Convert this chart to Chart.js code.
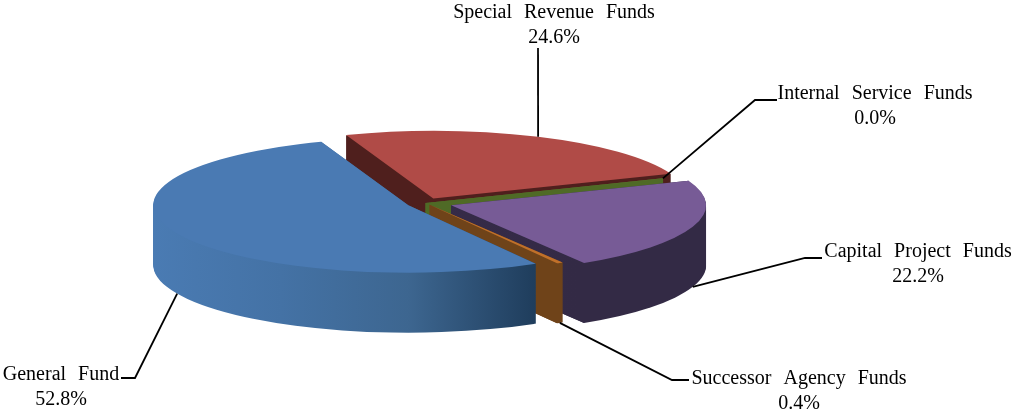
<!DOCTYPE html>
<html>
<head>
<meta charset="utf-8">
<title>Funds</title>
<script src="https://cdn.jsdelivr.net/npm/chart.js@4"></script>
<style>
    html, body { margin: 0; padding: 0; background: #fff; }
    #box { width: 1013px; height: 411px; position: relative; }
</style>
</head>
<body>
<div id="box"><canvas id="grafico"></canvas></div>
<script>
// Datos
const categorias = ['General Fund', 'Special Revenue Funds', 'Internal Service Funds', 'Capital Project Funds', 'Successor Agency Funds'];
const valores = [52.8, 24.6, 0.04, 22.2, 0.4];

// Colores: cara superior y pared lateral
const coloresTop = ['#4a7ab3', '#b04b47', '#5f7a30', '#775b96', '#c0702a'];
const coloresPared = [
    ['#4a7bb3', '#4472a5', '#3d6690', '#1f3d5c'],
    ['#4f1f1d', '#4f1f1d'],
    ['#4f6a26', '#4f6a26'],
    ['#3a2c4c', '#332a45'],
    ['#6f4319', '#6f4319']
];

// Estilo del pseudo 3D
const explode = [19, 19, 0, 27, 8];
const ordenDibujo = [1, 2, 3, 4, 0];
const aplastado = 0.265;
const alturaPared = 60;

// Etiquetas: posicion del texto y codo de la linea guia
const etiquetaX = [61, 554, 875, 918, 799];
const etiquetaY = [375, 13, 94, 252, 379];
const codos = [
    [[135, 378], [121, 378]],
    [[538, 48]],
    [[755, 100], [777, 100]],
    [[805, 258], [822, 258]],
    [[672, 380], [689, 380]]
];
const anclaEnPared = [1, 0, 0, 1, 1];

function anguloMedio(arc) {
    return (arc.startAngle + arc.endAngle) / 2;
}

// Cara radial de una porcion, para que las muy finas no queden transparentes
function caraRadial(ctx, arc, angulo) {
    const h = alturaPared / aplastado;
    const ex = arc.x + Math.cos(angulo) * arc.outerRadius;
    const ey = arc.y + Math.sin(angulo) * arc.outerRadius;
    ctx.beginPath();
    ctx.moveTo(arc.x, arc.y);
    ctx.lineTo(ex, ey);
    ctx.lineTo(ex, ey + h);
    ctx.lineTo(arc.x, arc.y + h);
    ctx.closePath();
    ctx.fill();
}

const pie3d = {
    id: 'pie3d',
    beforeDatasetsDraw(chart) {
        const ctx = chart.ctx;
        const arcs = chart.getDatasetMeta(0).data;
        const cy = arcs[0].y;

        ctx.save();
        ctx.translate(0, cy);
        ctx.scale(1, aplastado);
        ctx.translate(0, -cy);

        ordenDibujo.forEach(i => {
            const arc = arcs[i];
            const mid = anguloMedio(arc);
            ctx.save();
            ctx.translate(Math.cos(mid) * explode[i], Math.sin(mid) * explode[i]);

            // Pared lateral, capa por capa
            const grad = ctx.createLinearGradient(arc.x - arc.outerRadius, 0, arc.x + arc.outerRadius * 0.5, 0);
            coloresPared[i].forEach((c, k) => grad.addColorStop(k / (coloresPared[i].length - 1), c));
            ctx.fillStyle = grad;
            for (let d = alturaPared; d > 0; d--) {
                ctx.beginPath();
                ctx.moveTo(arc.x, arc.y + d / aplastado);
                ctx.arc(arc.x, arc.y + d / aplastado, arc.outerRadius, arc.startAngle, arc.endAngle);
                ctx.closePath();
                ctx.fill();
            }
            caraRadial(ctx, arc, arc.startAngle);
            caraRadial(ctx, arc, arc.endAngle);

            // Cara superior
            arc.draw(ctx);
            ctx.restore();
        });

        ctx.restore();
        return false;
    },
    afterDraw(chart) {
        const ctx = chart.ctx;
        const arcs = chart.getDatasetMeta(0).data;

        ctx.save();
        ctx.strokeStyle = '#000';
        ctx.lineWidth = 1.8;
        ctx.fillStyle = '#000';
        ctx.font = '20px "Liberation Serif"';
        ctx.textAlign = 'center';
        ctx.textBaseline = 'middle';

        arcs.forEach((arc, i) => {
            const mid = anguloMedio(arc);
            const r = arc.outerRadius + explode[i];
            const ax = arc.x + Math.cos(mid) * r;
            const ay = arc.y + Math.sin(mid) * r * aplastado + anclaEnPared[i] * alturaPared;

            ctx.beginPath();
            ctx.moveTo(ax, ay);
            codos[i].forEach(p => ctx.lineTo(p[0], p[1]));
            ctx.stroke();

            ctx.wordSpacing = '7px';
            ctx.fillText(categorias[i], etiquetaX[i], etiquetaY[i]);
            ctx.wordSpacing = '0px';
            ctx.fillText(valores[i].toFixed(1) + '%', etiquetaX[i], etiquetaY[i] + 25);
        });
        ctx.restore();
    }
};

new Chart(document.getElementById('grafico').getContext('2d'), {
    type: 'pie',
    data: {
        labels: categorias,
        datasets: [{
            data: valores,
            backgroundColor: coloresTop,
            borderWidth: 0
        }]
    },
    options: {
        responsive: true,
        maintainAspectRatio: false,
        animation: false,
        rotation: 150,
        radius: 255,
        layout: { padding: { right: 162, bottom: 5 } },
        events: [],
        plugins: {
            legend: { display: false },
            tooltip: { enabled: false }
        }
    },
    plugins: [pie3d]
});
</script>
</body>
</html>
